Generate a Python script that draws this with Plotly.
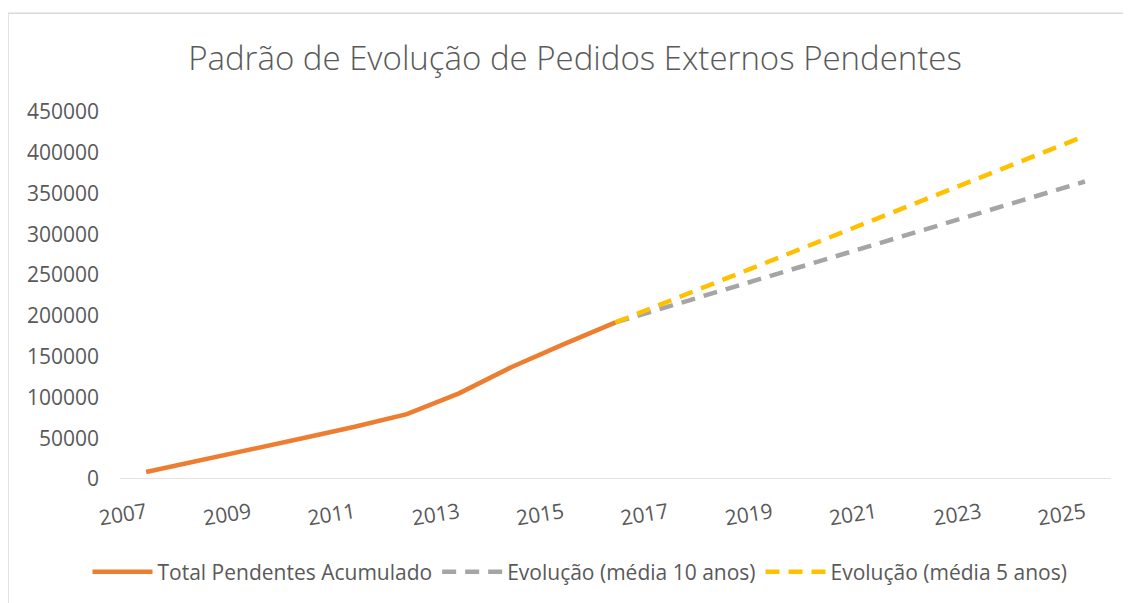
import plotly.graph_objects as go

years_total = [2007, 2008, 2009, 2010, 2011, 2012, 2013, 2014, 2015, 2016]
total_pendentes = [8500, 22000, 36000, 50000, 64000, 79500, 105000, 137000, 165000, 192000]

years_proj = [2016, 2017, 2018, 2019, 2020, 2021, 2022, 2023, 2024, 2025]
media_10 = [192000, 211200, 230400, 249600, 268800, 288000, 307200, 326400, 345600, 364800]
media_5 = [192000, 217400, 242800, 268200, 293600, 319000, 344400, 369800, 395200, 420600]

tick_years = [2007, 2009, 2011, 2013, 2015, 2017, 2019, 2021, 2023, 2025]
y_ticks = [0, 50000, 100000, 150000, 200000, 250000, 300000, 350000, 400000, 450000]

TXT = "#595959"
FONT = "Open Sans"

fig = go.Figure()
fig.add_trace(go.Scatter(x=years_total, y=total_pendentes, mode="lines",
                         name="Total Pendentes Acumulado",
                         line=dict(color="#ED7D31", width=4.5)))
fig.add_trace(go.Scatter(x=years_proj, y=media_10, mode="lines",
                         name="Evolução (média 10 anos)",
                         line=dict(color="#A5A5A5", width=4.5, dash="14px,9px")))
fig.add_trace(go.Scatter(x=years_proj, y=media_5, mode="lines",
                         name="Evolução (média 5 anos)",
                         line=dict(color="#FFC000", width=4.5, dash="14px,9px")))

# page is rendered with an 8px offset
W, H = 1123, 595
L, R, T, B = 112, 20, 104, 123
pw, ph = W - L - R, H - T - B
bx = (0 - L) / pw
by = 1 + (T - 5) / ph

fig.update_layout(
    width=W, height=H,
    margin=dict(l=L, r=R, t=T, b=B),
    paper_bgcolor="white", plot_bgcolor="white",
    font=dict(family=FONT, color=TXT, size=21),
    title=dict(text="Padrão de Evolução de Pedidos Externos Pendentes",
               x=(567 - L) / pw, xref="paper", xanchor="center", y=1 - 50 / H, yanchor="middle",
               font=dict(family=FONT, size=33, color=TXT, weight=300)),
    showlegend=True,
    legend=dict(orientation="h", x=(572 - L) / pw, xanchor="center",
                y=-(564 - (T + ph)) / ph, yanchor="middle",
                font=dict(family=FONT, size=21, color=TXT),
                itemwidth=60, tracegroupgap=0),
    xaxis=dict(range=[2006.5, 2025.5], tickmode="array", tickvals=tick_years,
               ticktext=[str(v) for v in tick_years], tickangle=-9,
               showgrid=False, zeroline=False, showline=False, ticks="",
               tickfont=dict(family=FONT, size=21, color=TXT), ticklabelstandoff=17),
    yaxis=dict(range=[0, 450000], tickmode="array", tickvals=y_ticks,
               ticktext=[str(v) for v in y_ticks],
               showgrid=False, zeroline=False, showline=False, ticks="",
               tickfont=dict(family=FONT, size=21, color=TXT), ticklabelstandoff=20),
    shapes=[
        dict(type="line", xref="paper", yref="y", x0=0, x1=1, y0=0, y1=0,
             line=dict(color="#D9D9D9", width=1.5), layer="below"),
        dict(type="line", xref="paper", yref="paper", x0=bx, x1=bx, y0=by, y1=-1,
             line=dict(color="#D9D9D9", width=1.5)),
        dict(type="line", xref="paper", yref="paper", x0=bx, x1=2, y0=by, y1=by,
             line=dict(color="#D9D9D9", width=1.5)),
    ],
)

fig.write_html("out.html")
